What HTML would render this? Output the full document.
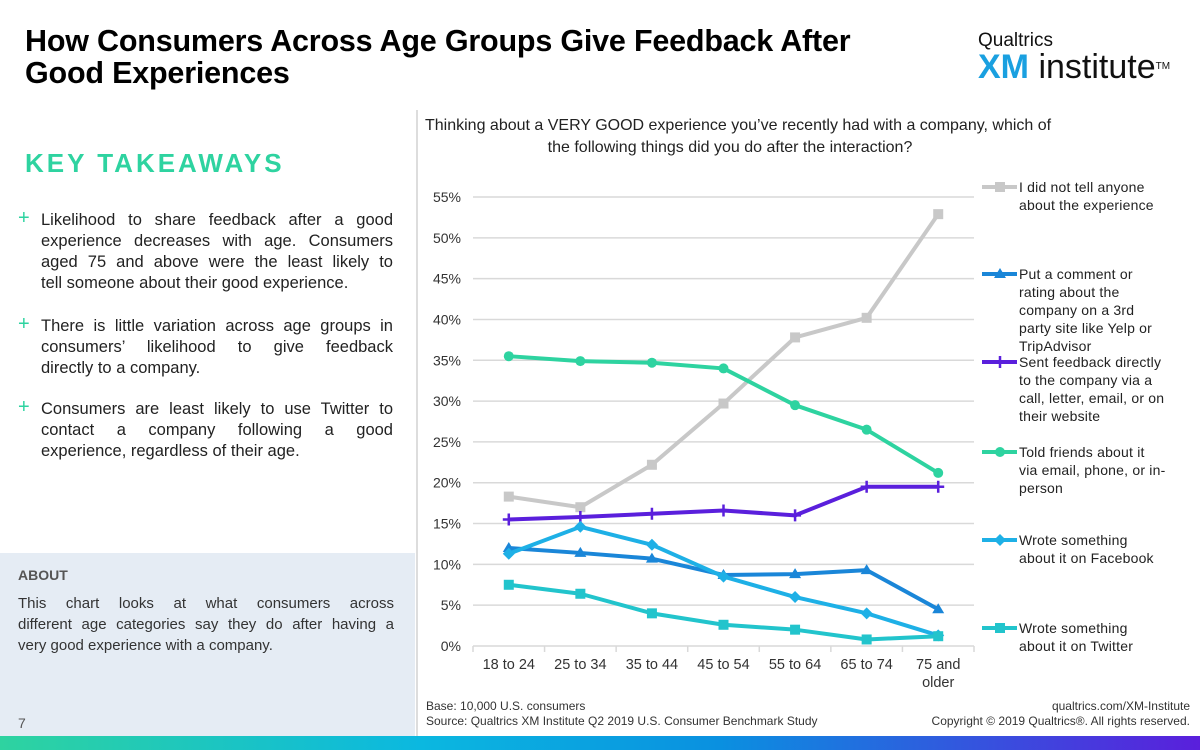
<!DOCTYPE html>
<html><head><meta charset="utf-8"><style>
body{margin:0;width:1200px;height:750px;position:relative;background:#fff;font-family:"Liberation Sans",sans-serif;overflow:hidden;color:#222}
.abs{position:absolute}
h1{position:absolute;left:25px;top:25px;margin:0;font-size:30.5px;line-height:32px;font-weight:bold;color:#000;letter-spacing:-0.2px}
.kt{left:25px;top:148px;font-size:26px;font-weight:bold;color:#2ed3a0;letter-spacing:3px}
.bul{left:41px;width:352px;font-size:16.5px;line-height:21px;color:#222}
.bul div,.ab div{text-align:justify;text-align-last:justify;white-space:nowrap}
.bul div.l,.ab div.l{text-align-last:left}
.plus{left:18px;font-size:20px;color:#2ed3a0;line-height:20px}
.leg{left:1019px;font-size:14px;line-height:18px;color:#222;white-space:nowrap;letter-spacing:0.2px}
</style></head><body>
<h1>How Consumers Across Age Groups Give Feedback After<br>Good Experiences</h1>
<div class="abs" style="left:978px;top:30px">
<div style="font-size:19px;color:#111">Qualtrics</div>
<div style="font-size:34px;line-height:34px;margin-top:-2px;color:#111"><b style="color:#1aa0e0">XM</b> institute<span style="font-size:10px;vertical-align:top">TM</span></div>
</div>
<div class="abs kt">KEY TAKEAWAYS</div>
<div class="abs plus" style="top:208px">+</div>
<div class="abs bul" style="top:210px"><div>Likelihood to share feedback after a good</div><div>experience decreases with age. Consumers</div><div>aged 75 and above were the least likely to</div><div class="l">tell someone about their good experience.</div></div>
<div class="abs plus" style="top:314px">+</div>
<div class="abs bul" style="top:316px"><div>There is little variation across age groups in</div><div>consumers’ likelihood to give feedback</div><div class="l">directly to a company.</div></div>
<div class="abs plus" style="top:397px">+</div>
<div class="abs bul" style="top:399px"><div>Consumers are least likely to use Twitter to</div><div>contact a company following a good</div><div class="l">experience, regardless of their age.</div></div>
<div class="abs" style="left:0;top:553px;width:415px;height:183px;background:#e5ecf4">
<div style="position:absolute;left:18px;top:14px;font-size:14px;font-weight:bold;color:#555">ABOUT</div>
<div class="ab" style="position:absolute;left:18px;top:40px;width:376px;font-size:15px;line-height:21px;color:#333"><div>This chart looks at what consumers across</div><div>different age categories say they do after having a</div><div class="l">very good experience with a company.</div></div>
<div style="position:absolute;left:18px;top:162px;font-size:14px;color:#555">7</div>
</div>
<div class="abs" style="left:416px;top:110px;width:2px;height:626px;background:#ddd"></div>
<div class="abs" style="left:425px;top:115px;width:610px;text-align:center;font-size:16px;line-height:22px;color:#222;white-space:nowrap">Thinking about a VERY GOOD experience you’ve recently had with a company, which of<br>the following things did you do after the interaction?</div>
<svg class="abs" style="left:0;top:0" width="1200" height="750" id="chart"></svg>
<div class="abs leg" style="top:178px">I did not tell anyone<br>about the experience</div>
<div class="abs leg" style="top:265px">Put a comment or<br>rating about the<br>company on a 3rd<br>party site like Yelp or<br>TripAdvisor</div>
<div class="abs leg" style="top:353px">Sent feedback directly<br>to the company via a<br>call, letter, email, or on<br>their website</div>
<div class="abs leg" style="top:443px">Told friends about it<br>via email, phone, or in-<br>person</div>
<div class="abs leg" style="top:531px">Wrote something<br>about it on Facebook</div>
<div class="abs leg" style="top:619px">Wrote something<br>about it on Twitter</div>
<div class="abs" style="left:426px;top:699px;font-size:12px;line-height:15px;color:#333">Base: 10,000 U.S. consumers<br>Source: Qualtrics XM Institute Q2 2019 U.S. Consumer Benchmark Study</div>
<div class="abs" style="right:10px;top:699px;font-size:12px;line-height:15px;color:#333;text-align:right">qualtrics.com/XM-Institute<br>Copyright © 2019 Qualtrics®. All rights reserved.</div>
<div class="abs" style="left:0;top:736px;width:1200px;height:14px;background:linear-gradient(90deg,#2ed3a0,#0bb8e0 35%,#0a90e0 60%,#5a1fdc)"></div>
<script>
const categories=["18 to 24","25 to 34","35 to 44","45 to 54","55 to 64","65 to 74","75 and older"];
const yTicks=[0,5,10,15,20,25,30,35,40,45,50,55];
const noneVals=[18.3,17.0,22.2,29.7,37.8,40.2,52.9];
const thirdPartyVals=[12.0,11.4,10.7,8.7,8.8,9.3,4.5];
const directVals=[15.5,15.8,16.2,16.6,16.0,19.5,19.5];
const friendsVals=[35.5,34.9,34.7,34.0,29.5,26.5,21.2];
const facebookVals=[11.3,14.6,12.4,8.5,6.0,4.0,1.3];
const twitterVals=[7.5,6.4,4.0,2.6,2.0,0.8,1.2];
const svg=document.getElementById('chart');const NS='http://www.w3.org/2000/svg';
const X0=473,X1=974,Y0=646,Y1=197,YMAX=55;
const bw=(X1-X0)/categories.length;
const xs=i=>X0+bw*(i+0.5);
const ys=v=>Y0-(v/YMAX)*(Y0-Y1);
function mk(t,a){const e=document.createElementNS(NS,t);for(const k in a)e.setAttribute(k,a[k]);svg.appendChild(e);return e;}
yTicks.forEach(t=>{
 const g=mk('line',{x1:X0,x2:X1,y1:ys(t),y2:ys(t),stroke:'#d9d9d9','stroke-width':1.5});
 
 
 const l=mk('text',{x:461,y:ys(t)+5,'text-anchor':'end','font-size':14,fill:'#333','font-family':'Liberation Sans'});
 l.textContent=t+'%';
 
 
});
for(let i=0;i<=categories.length;i++){const tk=mk('line',{x1:X0+bw*i,x2:X0+bw*i,y1:Y0,y2:Y0+6,stroke:'#d9d9d9','stroke-width':1.5});
 
 }
categories.forEach((c,i)=>{
 const parts=c==='75 and older'?['75 and','older']:[c];
 parts.forEach((p,j)=>{const t=mk('text',{x:xs(i),y:Y0+23+j*18,'text-anchor':'middle','font-size':14.5,fill:'#333','font-family':'Liberation Sans'});t.textContent=p;
 
 });
});
const series=[
 {name:'series-none',vals:noneVals,c:'#c8c8c8',m:'sq',ly:187},
 {name:'series-third-party',vals:thirdPartyVals,c:'#1a86d8',m:'tri',ly:274},
 {name:'series-direct',vals:directVals,c:'#5a1fdc',m:'plus',ly:362},
 {name:'series-friends',vals:friendsVals,c:'#2ed3a0',m:'dot',ly:452},
 {name:'series-facebook',vals:facebookVals,c:'#1eb0e6',m:'dia',ly:540},
 {name:'series-twitter',vals:twitterVals,c:'#22c4cc',m:'sq',ly:628}];
function marker(m,x,y,c){
 let e;
 if(m==='sq')e=mk('rect',{x:x-5,y:y-5,width:10,height:10,fill:c});
 else if(m==='tri')e=mk('polygon',{points:`${x},${y-6} ${x+6},${y+4} ${x-6},${y+4}`,fill:c});
 else if(m==='plus')e=mk('path',{d:`M${x-6} ${y}H${x+6}M${x} ${y-6}V${y+6}`,stroke:c,'stroke-width':2.5});
 else if(m==='dot')e=mk('circle',{cx:x,cy:y,r:5,fill:c});
 else e=mk('polygon',{points:`${x},${y-6} ${x+6},${y} ${x},${y+6} ${x-6},${y}`,fill:c});
 return e;
}
series.forEach(s=>{
 const p=mk('polyline',{points:s.vals.map((v,i)=>xs(i)+','+ys(v)).join(' '),fill:'none',stroke:s.c,'stroke-width':4,'stroke-linejoin':'round'});
 
 
 s.vals.forEach((v,i)=>{const mm=marker(s.m,xs(i),ys(v),s.c);
 
 });
 const ll=mk('line',{x1:982,x2:1017,y1:s.ly,y2:s.ly,stroke:s.c,'stroke-width':4});
 
 
 const lm=marker(s.m,1000,s.ly,s.c);
 
 
});
</script>
</body></html>
